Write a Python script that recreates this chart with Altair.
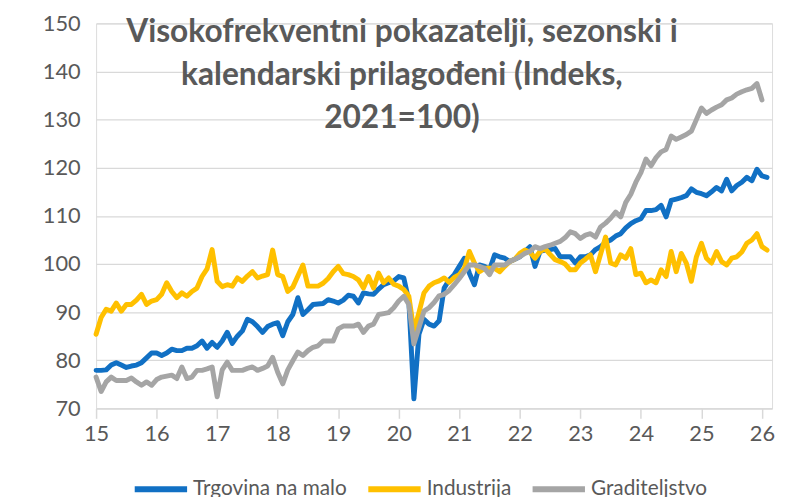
import altair as alt
import pandas as pd

# monthly observations, Jan 2015 onwards
months = pd.date_range("2015-01-01", periods=134, freq="MS")

trgovina = [
    77.9, 77.9, 78.0, 79.0, 79.5, 79.0, 78.5, 78.8, 79.0, 79.5, 80.5, 81.5,
    81.5, 81.0, 81.5, 82.3, 82.0, 82.0, 82.5, 82.5, 83.0, 84.0, 82.5, 83.7,
    82.7, 84.0, 85.8, 83.5, 85.0, 86.1, 88.5, 88.0, 87.0, 85.8, 87.0, 87.5,
    87.8, 85.1, 88.0, 89.5, 93.0, 89.5, 90.5, 91.6, 91.7, 91.8, 92.6, 92.3,
    91.9, 92.5, 93.5, 93.3, 91.9, 94.0, 93.8, 93.7, 94.8, 95.7, 96.1, 96.5,
    97.4, 97.1, 92.3, 72.0, 85.4, 88.5, 87.5, 87.1, 88.2, 95.0, 96.7, 97.8,
    99.5, 101.2, 98.1, 95.7, 99.8, 99.5, 98.8, 101.9, 101.5, 101.2, 100.5, 101.0,
    101.5, 102.6, 103.6, 99.5, 102.6, 102.9, 103.0, 103.2, 101.5, 101.5, 101.5, 100.2,
    101.5, 101.5, 101.9, 103.0, 103.6, 104.5, 105.0, 105.8, 106.3, 107.5, 108.4, 109.0,
    109.4, 111.1, 111.1, 111.3, 112.2, 109.8, 113.2, 113.5, 113.8, 114.2, 115.6, 114.9,
    114.6, 114.2, 115.0, 115.9, 115.2, 117.6, 115.2, 116.3, 117.0, 118.0, 117.3, 119.7,
    118.3, 118.0,
]

industrija = [
    85.4, 88.9, 90.6, 90.2, 91.9, 90.2, 91.6, 91.6, 92.5, 93.7, 91.6, 92.3,
    92.6, 93.7, 96.1, 94.3, 93.0, 94.0, 93.3, 94.3, 95.0, 97.4, 99.0, 103.0,
    96.4, 95.3, 95.7, 95.4, 97.1, 96.4, 97.5, 98.4, 97.1, 97.5, 97.8, 102.9,
    97.8, 97.4, 94.3, 95.2, 97.5, 99.8, 95.4, 95.4, 95.4, 96.0, 97.0, 98.4,
    99.5, 98.0, 97.8, 97.4, 96.7, 95.0, 97.4, 95.0, 98.1, 96.1, 97.1, 95.8,
    95.4, 94.7, 93.3, 86.1, 89.9, 94.0, 95.4, 96.1, 96.5, 97.1, 96.2, 97.2,
    97.8, 99.1, 102.6, 100.2, 98.4, 99.1, 99.1, 99.1, 98.4, 99.5, 100.5, 101.0,
    102.2, 102.9, 102.5, 101.2, 102.6, 103.2, 102.0, 100.9, 100.5, 100.0, 98.8, 98.8,
    100.2, 101.0, 101.9, 98.4, 102.0, 105.6, 100.2, 99.8, 101.9, 101.2, 103.2, 97.8,
    98.1, 96.1, 96.7, 96.1, 98.8, 97.4, 102.6, 98.4, 102.2, 100.2, 96.4, 101.5,
    104.3, 101.2, 100.2, 102.6, 100.5, 99.8, 101.2, 101.5, 102.5, 104.3, 105.0, 106.3,
    103.6, 102.9,
]

graditeljstvo = [
    76.5, 73.5, 75.5, 76.5, 75.8, 75.8, 75.8, 76.3, 75.5, 74.8, 75.5, 74.8,
    76.0, 76.5, 76.7, 76.9, 76.2, 78.6, 76.2, 76.5, 77.9, 77.9, 78.2, 78.6,
    72.4, 78.0, 79.6, 77.9, 77.9, 77.9, 78.3, 78.6, 77.9, 78.3, 78.8, 80.6,
    77.5, 75.1, 78.0, 79.9, 81.7, 81.0, 82.0, 82.7, 83.0, 84.0, 84.0, 84.0,
    86.5, 87.1, 87.1, 87.1, 87.5, 85.8, 87.1, 87.5, 89.5, 89.7, 89.9, 90.9,
    92.3, 93.3, 91.6, 83.4, 86.8, 90.2, 90.9, 92.0, 93.4, 93.7, 94.5, 95.7,
    97.0, 98.4, 99.8, 99.8, 99.5, 99.1, 97.8, 99.8, 99.8, 99.8, 100.5, 101.0,
    101.5, 102.2, 102.6, 103.6, 103.2, 103.6, 103.9, 104.3, 104.7, 105.5, 106.7, 106.3,
    105.3, 106.0, 106.3, 105.6, 107.7, 108.5, 109.5, 110.8, 109.8, 112.8, 114.5, 117.0,
    119.0, 121.8, 120.4, 122.1, 123.3, 123.8, 126.6, 125.9, 126.4, 126.9, 127.6, 130.0,
    132.4, 131.3, 132.0, 132.6, 133.1, 134.1, 134.5, 135.3, 135.8, 136.2, 136.5, 137.5,
    134.1,
]

series_names = ["Trgovina na malo", "Industrija", "Graditeljstvo"]
series_colors = ["#1170C4", "#FFC000", "#A5A5A5"]
year_ticks = list(range(2015, 2027))
y_ticks = list(range(70, 151, 10))
title_lines = ["Visokofrekventni pokazatelji, sezonski i",
               "kalendarski prilagođeni (Indeks,",
               "2021=100)"]

rows = []
for name, vals in zip(series_names, [trgovina, industrija, graditeljstvo]):
    for d, v in zip(months, vals):
        rows.append({"t": d.year + (d.month - 1) / 12.0, "value": v, "series": name})
df = pd.DataFrame(rows)

FONT = "Lato"
TXT = "#595959"
GRID = "#D9D9D9"

x_enc = alt.X("t:Q",
              scale=alt.Scale(domain=[2015, 2015 + 134 / 12.0], nice=False, zero=False),
              axis=alt.Axis(values=year_ticks, labelExpr="substring(toString(datum.value), 2)",
                            labelFlush=False, labelOverlap=False, grid=False,
                            domainColor=GRID, domainWidth=1.5, tickColor=GRID,
                            tickWidth=1.5, tickSize=10, labelPadding=5,
                            labelFontSize=22, labelColor=TXT, labelFont=FONT),
              title=None)
y_enc = alt.Y("value:Q",
              scale=alt.Scale(domain=[70, 150], nice=False, zero=False),
              axis=alt.Axis(values=y_ticks, domain=False, ticks=False, grid=True,
                            gridColor=GRID, gridWidth=1.5, labelPadding=16,
                            labelFontSize=22, labelColor=TXT, labelFont=FONT),
              title=None)
color_enc = alt.Color("series:N",
                      scale=alt.Scale(domain=series_names, range=series_colors),
                      legend=alt.Legend(orient="none", direction="horizontal",
                                        legendX=36, legendY=441, title=None,
                                        symbolType="stroke", symbolSize=2800,
                                        symbolStrokeWidth=6, labelFontSize=21,
                                        labelFont=FONT, labelColor=TXT,
                                        labelLimit=400,
                                        labelOffset=3, columnPadding=9))

layers = []
for n in series_names:
    layers.append(
        alt.Chart(df).transform_filter(alt.datum.series == n)
        .mark_line(strokeWidth=5, strokeCap="round", strokeJoin="round")
        .encode(x=x_enc, y=y_enc, color=color_enc)
    )

title_df = pd.DataFrame({"k": [0]})
title_layer = alt.Chart(title_df).mark_text(
    text=title_lines, font=FONT, fontSize=32, fontWeight="bold", color=TXT,
    align="center", baseline="alphabetic", lineHeight=43.5,
).encode(x=alt.value(309), y=alt.value(19))

chart = alt.layer(*layers, title_layer).properties(
    width=683, height=389,
    padding={"left": 89, "top": 13, "right": 6, "bottom": 87},
    autosize=alt.AutoSizeParams(type="none"),
).configure_view(stroke=None).configure(background="white")

chart.save("out.html", embed_options={"renderer": "svg", "actions": False})
